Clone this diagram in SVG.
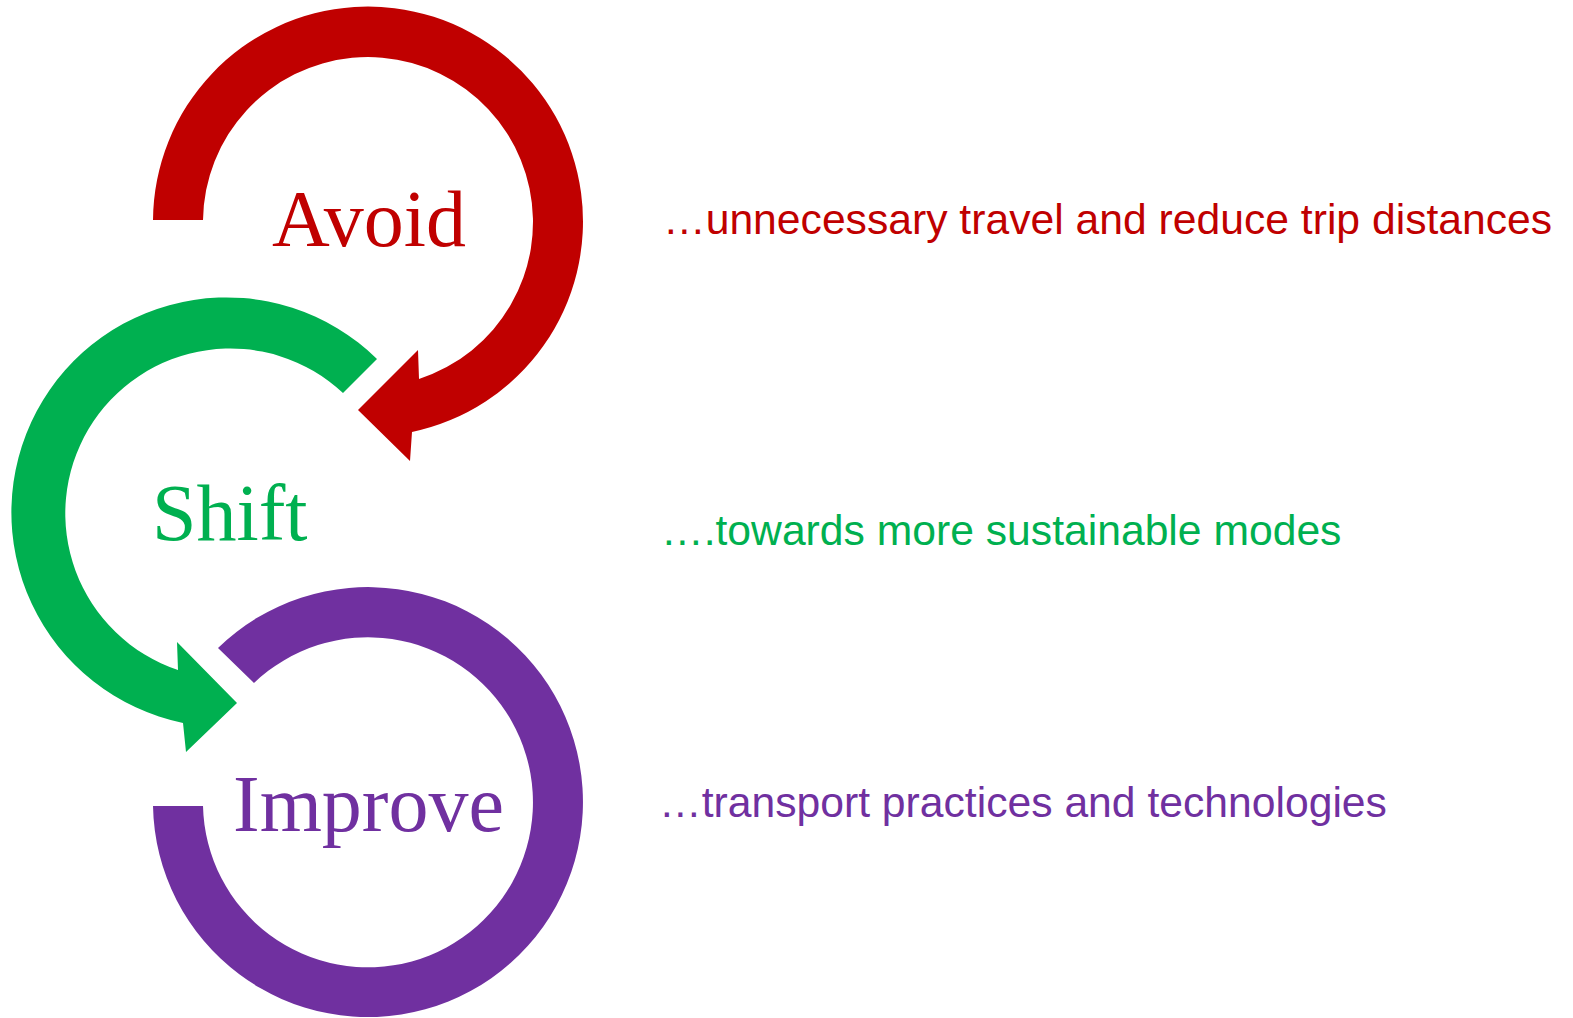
<svg xmlns="http://www.w3.org/2000/svg" width="1573" height="1018" viewBox="0 0 1573 1018">
  <style>
    .word { font-family: "Liberation Serif", "Times New Roman", serif; font-size: 80px; }
    .desc { font-family: "Liberation Sans", Arial, sans-serif; font-size: 42.67px; }
    .red { fill: #C00000; }
    .green { fill: #00B050; }
    .purple { fill: #7030A0; }
  </style>
  <rect width="1573" height="1018" fill="#FFFFFF"/>

  <!-- curved arrows: each is a thick ring segment ending in an arrowhead -->
  <g id="connectors">
    <!-- Avoid ring, centre (368,222) -->
    <path id="arrow-avoid" class="red" d="M153,220 A215,215 0 1 1 412,432 L410,461 L358,410 L418,350 L419,379 A165,165 0 1 0 203,220 Z"/>
    <!-- Shift ring, centre (227,512) -->
    <path id="arrow-shift" class="green" d="M377,359 A215,215 0 1 0 183,723 L186,752 L237,703 L177,642 L178,670 A165,165 0 1 1 343,393 Z"/>
    <!-- Improve ring, centre (368,802) -->
    <path id="arrow-improve" class="purple" d="M218,648 A215,215 0 1 1 153,806 L203,806 A165,165 0 1 0 254,683 Z"/>
  </g>

  <g id="node-avoid">
    <text class="word red" x="272" y="246">Avoid</text>
    <text class="desc red" x="663" y="234">…unnecessary travel and reduce trip distances</text>
  </g>
  <g id="node-shift">
    <text class="word green" x="152" y="540">Shift</text>
    <text class="desc green" x="661" y="545">….towards more sustainable modes</text>
  </g>
  <g id="node-improve">
    <text class="word purple" x="233" y="831">Improve</text>
    <text class="desc purple" x="659" y="817">…transport practices and technologies</text>
  </g>
</svg>
